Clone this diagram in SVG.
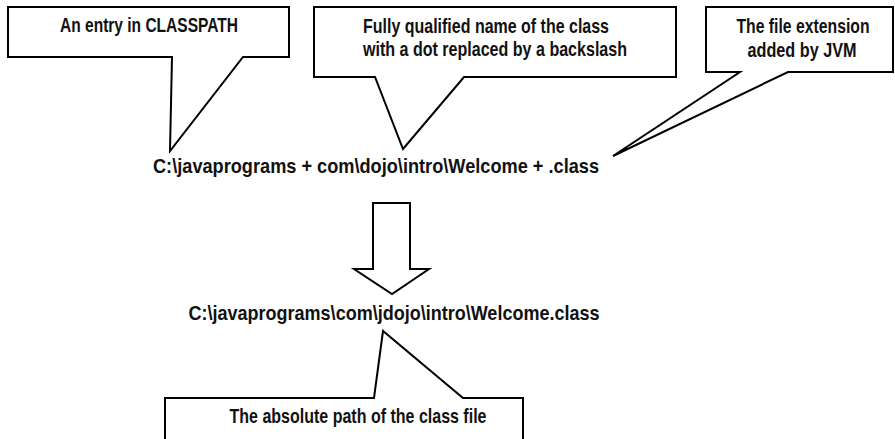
<svg xmlns="http://www.w3.org/2000/svg" width="895" height="439" viewBox="0 0 895 439">
  <style>
    .callout { fill: #ffffff; stroke: #000000; stroke-width: 2; stroke-linejoin: miter; }
    .arrow { fill: #ffffff; stroke: #000000; stroke-width: 2; }
    .label { font-family: "Liberation Sans", Arial, sans-serif; font-weight: bold; font-size: 21px; fill: #111111; text-anchor: middle; }
  </style>
  <rect width="895" height="439" fill="#ffffff"/>

  <!-- callout: classpath entry -->
  <g id="callout-classpath">
    <path class="callout" d="M8,7 H289 V57 H243 L170,151 L172,57 H8 Z"/>
    <text class="label" x="149" y="32" textLength="178" lengthAdjust="spacingAndGlyphs">An entry in CLASSPATH</text>
  </g>

  <!-- callout: qualified class name -->
  <g id="callout-classname">
    <path class="callout" d="M314,7 H676 V77 H464 L403,149 L375,77 H314 Z"/>
    <text class="label" x="486" y="33" textLength="246" lengthAdjust="spacingAndGlyphs">Fully qualified name of the class</text>
    <text class="label" x="495" y="56" textLength="264" lengthAdjust="spacingAndGlyphs">with a dot replaced by a backslash</text>
  </g>

  <!-- callout: file extension -->
  <g id="callout-extension">
    <path class="callout" d="M706,7 H893 V72 H788 L613,156 L740,72 H706 Z"/>
    <text class="label" x="803" y="33" textLength="133" lengthAdjust="spacingAndGlyphs">The file extension</text>
    <text class="label" x="802" y="57" textLength="109" lengthAdjust="spacingAndGlyphs">added by JVM</text>
  </g>

  <!-- composed path expression -->
  <g id="expression">
    <text class="label" x="376" y="173" textLength="446" lengthAdjust="spacingAndGlyphs">C:\javaprograms + com\dojo\intro\Welcome + .class</text>
  </g>

  <!-- resulting path -->
  <g id="result">
    <text class="label" x="394" y="320" textLength="411" lengthAdjust="spacingAndGlyphs">C:\javaprograms\com\jdojo\intro\Welcome.class</text>
  </g>

  <!-- callout: absolute path -->
  <g id="callout-absolute">
    <path class="callout" d="M165,445 V398 H374 L383,331 L463,398 H523 V445"/>
    <text class="label" x="358" y="423" textLength="257" lengthAdjust="spacingAndGlyphs">The absolute path of the class file</text>
  </g>

  <g id="connectors">
    <polygon class="arrow" points="373,203 410,203 410,269 429,269 392,294 354,269 373,269"/>
  </g>
</svg>
